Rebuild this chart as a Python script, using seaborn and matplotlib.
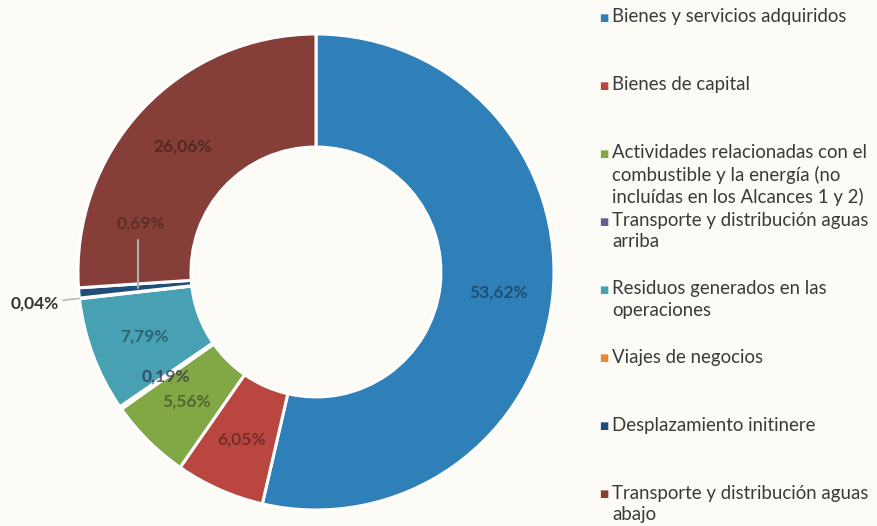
import numpy as np
import seaborn as sns
import matplotlib.pyplot as plt

sns.set_theme(style="white")
plt.rcParams['font.family'] = ['Lato', 'DejaVu Sans']

categories = [
    "Bienes y servicios adquiridos",
    "Bienes de capital",
    "Actividades relacionadas con el\ncombustible y la energía (no\nincluídas en los Alcances 1 y 2)",
    "Transporte y distribución aguas\narriba",
    "Residuos generados en las\noperaciones",
    "Viajes de negocios",
    "Desplazamiento initinere",
    "Transporte y distribución aguas\nabajo",
]
values = [53.62, 6.05, 5.56, 0.19, 7.79, 0.04, 0.69, 26.06]
colors = ["#2f7fb9", "#b9473f", "#82a845", "#6a5a96", "#47a1b3", "#e8893a", "#1f4e79", "#863f38"]

bg = "#fcfbf5"
fig = plt.figure(figsize=(8.77, 5.26), dpi=100, facecolor=bg)
ax = fig.add_axes([0.0889, 0.0304, 0.5428, 0.905])
ax.set_facecolor(bg)

wedges, _ = ax.pie(values, colors=colors, startangle=90, counterclock=False,
                   radius=1.0, wedgeprops=dict(width=0.475, edgecolor="white", linewidth=2.2))
ax.set_xlim(-1, 1)
ax.set_ylim(-1, 1)
ax.set_aspect("equal")


def darker(c, f=0.5):
    r, g, b = [int(c[i:i + 2], 16) / 255 for i in (1, 3, 5)]
    return (r * f, g * f, b * f)


pct_r = 0.77
fs = 12.5
for w, v, c in zip(wedges, values, colors):
    mid = np.deg2rad((w.theta1 + w.theta2) / 2)
    txt = f"{v:.2f}".replace(".", ",") + "%"
    if v == 0.04:
        # outside label with short leader
        lx, ly = 1.19 * np.cos(mid), 1.19 * np.sin(mid)
        ax.text(lx, ly, txt, ha="center", va="center", fontsize=fs,
                color="#333333", fontweight="bold")
        ax.plot([1.0 * np.cos(mid), 1.07 * np.cos(mid)],
                [1.0 * np.sin(mid), 1.07 * np.sin(mid)],
                color="#bbbbbb", lw=1.2, clip_on=False)
    elif v == 0.69:
        # label lifted into the neighbouring slice, leader line down
        px, py = 0.75 * np.cos(mid), 0.75 * np.sin(mid)
        ly = py + 0.2
        ax.text(px + 0.01, ly + 0.07, txt, ha="center", va="center", fontsize=fs,
                color=darker(colors[-1], 0.6), fontweight="bold", alpha=0.75)
        ax.plot([px, px], [py, ly], color="#b0b0b0", lw=1.5, zorder=5)
    else:
        ax.text(pct_r * np.cos(mid), pct_r * np.sin(mid), txt, ha="center", va="center",
                fontsize=fs, color=darker(c, 0.5), fontweight="bold", alpha=0.75)

# legend on the right
top_px, step_px = 18, 68.1
for i, (lab, c) in enumerate(zip(categories, colors)):
    y = 1 - (top_px + i * step_px) / 526
    fig.text(604 / 877, y, "■", color=c, fontsize=7, ha="center", va="center")
    fig.text(612 / 877, y + 10 / 526, lab, color="#3a3a3a", fontsize=13.4,
             ha="left", va="top", linespacing=1.3)

fig.savefig("out.png", dpi=100, facecolor=bg)
